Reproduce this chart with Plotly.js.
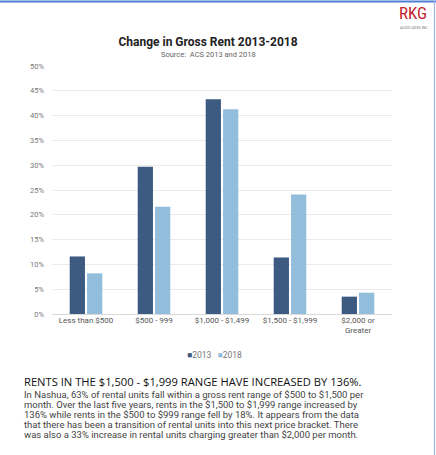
<!DOCTYPE html>
<html>
<head>
<meta charset="utf-8">
<script src="https://cdn.plot.ly/plotly-3.0.1.min.js"></script>
<style>
html,body{margin:0;padding:0;background:#fff;}
#chart{width:436px;height:455px;}
</style>
</head>
<body>
<div id="chart"></div>
<script>
// ---- data ----
const categories = ["Less than $500", "$500 - 999", "$1,000 - $1,499", "$1,500 - $1,999", "$2,000 or<br>Greater"];
const values2013 = [11.6, 29.7, 43.3, 11.4, 3.5];
const values2018 = [8.2, 21.6, 41.3, 24.1, 4.3];
const seriesNames = ["2013", "2018"];
const chartTitle = "Change in Gross Rent 2013-2018";
const chartSource = "Source:  ACS 2013 and 2018";
const headline = "RENTS IN THE $1,500 - $1,999 RANGE HAVE INCREASED BY 136%.";
const bodyLines = [
  "In Nashua, 63% of rental units fall within a gross rent range of $500 to $1,500 per",
  "month. Over the last five years, rents in the $1,500 to $1,999 range increased by",
  "136% while rents in the $500 to $999 range fell by 18%. It appears from the data",
  "that there has been a transition of rental units into this next price bracket. There",
  "was also a 33% increase in rental units charging greater than $2,000 per month."
];

// ---- styles ----
const colors = ["#3d5a80", "#93bedb"];
const W = 436, H = 455;
const mL = 52, mR = 44, mT = 66, mB = 141;
const plotW = W - mL - mR, plotH = H - mT - mB;
const px2x = px => (px - mL) / plotW;
const py2y = py => (H - mB - py) / plotH;

const traces = [values2013, values2018].map((vals, i) => ({
  type: "bar",
  name: seriesNames[i],
  x: categories,
  y: vals,
  marker: {color: colors[i]},
  hoverinfo: "x+y"
}));

const annotations = [
  {text: chartSource, xref: "paper", yref: "paper", x: px2x(208), y: py2y(55),
   xanchor: "center", yanchor: "middle", showarrow: false,
   font: {family: "Roboto", size: 7.5, color: "#666"}},
  {text: '<span style="color:' + colors[0] + '">■</span>' + seriesNames[0] +
         '   <span style="color:' + colors[1] + '">■</span>' + seriesNames[1],
   xref: "paper", yref: "paper", x: px2x(214), y: py2y(355),
   xanchor: "center", yanchor: "middle", showarrow: false,
   font: {family: "Roboto", size: 8.5, color: "#777"}},
  {text: headline, xref: "paper", yref: "paper", x: px2x(22), y: py2y(381.5),
   xanchor: "left", yanchor: "middle", showarrow: false,
   font: {family: "Open Sans", size: 11.2, color: "#111"}},
  {text: "RKG", xref: "paper", yref: "paper", x: px2x(413), y: py2y(13),
   xanchor: "center", yanchor: "middle", showarrow: false,
   font: {family: "Roboto Condensed, Roboto", size: 17, color: "#c3242f"}},
  {text: "ASSOCIATES INC", xref: "paper", yref: "paper", x: px2x(414), y: py2y(28),
   xanchor: "center", yanchor: "middle", showarrow: false,
   font: {family: "Roboto", size: 3.6, color: "#777"}}
];
bodyLines.forEach((line, i) => {
  annotations.push({text: line, xref: "paper", yref: "paper", x: px2x(22), y: py2y(394.5 + i * 10),
    xanchor: "left", yanchor: "middle", showarrow: false,
    font: {family: "Roboto", size: 9.5, color: "#444"}});
});

const layout = {
  width: W, height: H,
  margin: {l: mL, r: mR, t: mT, b: mB},
  paper_bgcolor: "#fff", plot_bgcolor: "#fff",
  showlegend: false,
  barmode: "group",
  bargap: 0.49,
  bargroupgap: 0.12,
  title: {text: "<b>" + chartTitle + "</b>", xref: "container", yref: "container",
          x: 208 / W, y: 1 - 42 / H, xanchor: "center", yanchor: "middle",
          font: {family: "Roboto", size: 12, color: "#222"}},
  xaxis: {tickfont: {family: "Roboto", size: 8, color: "#555"}, showline: false,
          ticks: "", showgrid: false, fixedrange: true},
  yaxis: {range: [0, 50], dtick: 5, ticksuffix: "%", showgrid: true, gridcolor: "#ebebeb",
          gridwidth: 1, zeroline: true, zerolinecolor: "#d9d9d9", zerolinewidth: 1,
          tickfont: {family: "Roboto", size: 7.5, color: "#777"}, ticks: "", fixedrange: true,
          ticklabelstandoff: 7},
  annotations: annotations,
  shapes: [
    {type: "line", xref: "paper", yref: "paper", x0: px2x(0), x1: px2x(436), y0: py2y(1.5), y1: py2y(1.5),
     line: {color: "#4e7fd5", width: 2}},
    {type: "line", xref: "paper", yref: "paper", x0: px2x(434.5), x1: px2x(434.5), y0: py2y(0), y1: py2y(455),
     line: {color: "#9fb3e6", width: 1.2}}
  ]
};

Plotly.newPlot("chart", traces, layout, {displayModeBar: false, staticPlot: true});
</script>
</body>
</html>
